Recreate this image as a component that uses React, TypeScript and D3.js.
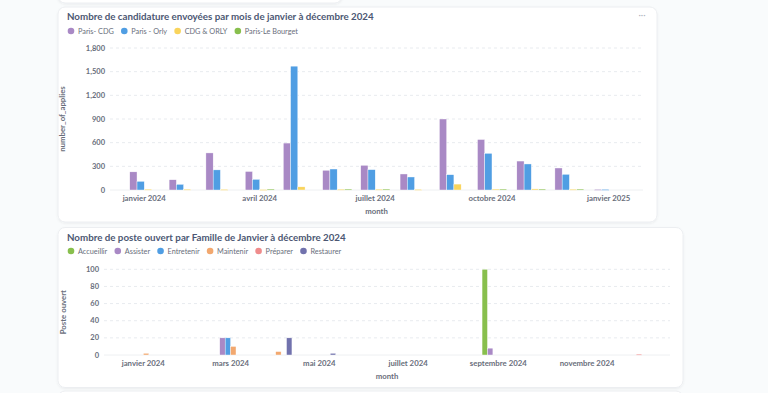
import { useEffect, useRef } from 'react';
import * as d3 from 'd3';

// libellés des mois en français
const moisFr = ['janvier', 'février', 'mars', 'avril', 'mai', 'juin', 'juillet', 'août', 'septembre', 'octobre', 'novembre', 'décembre'];

// --- graphique 1 : candidatures par mois ---
const months1 = ['2024-01', '2024-02', '2024-03', '2024-04', '2024-05', '2024-06', '2024-07', '2024-08', '2024-09', '2024-10', '2024-11', '2024-12', '2025-01'];
const series1 = ['Paris- CDG', 'Paris - Orly', 'CDG & ORLY', 'Paris-Le Bourget'];
const colors1 = ['#A989C5', '#509EE3', '#F9D45C', '#88BF4D'];
const parisCdg = [230, 130, 470, 235, 595, 250, 313, 203, 900, 640, 367, 279, 8];
const parisOrly = [110, 72, 255, 135, 1570, 266, 258, 165, 194, 465, 330, 199, 8];
const cdgOrly = [10, 10, 8, 6, 40, 10, 10, 8, 75, 12, 14, 10, 0];
const leBourget = [0, 0, 0, 12, 0, 12, 12, 0, 0, 12, 12, 12, 0];
const yTicks1 = [0, 300, 600, 900, 1200, 1500, 1800];

// --- graphique 2 : postes ouverts par famille ---
const months2 = ['2024-01', '2024-02', '2024-03', '2024-04', '2024-05', '2024-06', '2024-07', '2024-08', '2024-09', '2024-10', '2024-11', '2024-12'];
const series2 = ['Accueillir', 'Assister', 'Entretenir', 'Maintenir', 'Préparer', 'Restaurer'];
const colors2 = ['#88BF4D', '#A989C5', '#509EE3', '#F2A86F', '#EF8C8C', '#7172AD'];
const accueillir = [0, 0, 0, 0, 0, 0, 0, 0, 100, 0, 0, 0];
const assister = [0, 0, 20, 0, 0, 0, 0, 0, 8, 0, 0, 0];
const entretenir = [0, 0, 20, 0, 0, 0, 0, 0, 0, 0, 0, 0];
const maintenir = [2, 0, 10, 4, 0, 0, 0, 0, 0, 0, 0, 0];
const preparer = [0, 0, 0, 0, 0, 0, 0, 0, 0, 0, 0, 1];
const restaurer = [0, 0, 0, 20, 2, 0, 0, 0, 0, 0, 0, 0];
const yTicks2 = [0, 20, 40, 60, 80, 100];

const FONT = 'Lato, "Open Sans", sans-serif';
const TITLE = '#4C5773';
const MUTED = '#696E7B';

interface ChartCfg {
  title: string;
  card: { x: number; y: number; w: number; h: number };
  titleY: number;
  legendY: number;
  series: string[];
  colors: string[];
  values: number[][];
  months: string[];
  yTicks: number[];
  plot: { x0: number; x1: number; y0: number; y1: number };
  groupW: number;
  tickEvery: number;
  yLabel: string;
  yLabelX: number;
  xLabelY: number;
  menu: boolean;
}

const parseMonth = d3.timeParse('%Y-%m');
const fmtMonth = (d: Date) => `${moisFr[d.getMonth()]} ${d.getFullYear()}`;

function drawChart(svg: d3.Selection<SVGSVGElement, unknown, null, undefined>, c: ChartCfg) {
  const g = svg.append('g');
  g.append('rect')
    .attr('x', c.card.x)
    .attr('y', c.card.y)
    .attr('width', c.card.w)
    .attr('height', c.card.h)
    .attr('rx', 7)
    .attr('fill', '#fff')
    .attr('stroke', '#ECEEF1')
    .attr('filter', 'url(#shadow)');

  g.append('text')
    .attr('x', c.card.x + 9)
    .attr('y', c.titleY)
    .attr('dy', '0.35em')
    .attr('font-family', FONT)
    .attr('font-weight', 700)
    .attr('font-size', 9.75)
    .attr('fill', TITLE)
    .text(c.title);

  if (c.menu) {
    g.append('text')
      .attr('x', c.card.x + c.card.w - 15)
      .attr('y', c.titleY + 1)
      .attr('text-anchor', 'middle')
      .attr('font-family', FONT)
      .attr('font-size', 9)
      .attr('fill', '#B0B5C0')
      .text('···');
  }

  // légende
  let lx = c.card.x + 13;
  c.series.forEach((s, i) => {
    g.append('circle').attr('cx', lx).attr('cy', c.legendY).attr('r', 3.3).attr('fill', c.colors[i]);
    const t = g
      .append('text')
      .attr('x', lx + 7)
      .attr('y', c.legendY)
      .attr('dy', '0.35em')
      .attr('font-family', FONT)
      .attr('font-size', 7.3)
      .attr('fill', MUTED)
      .text(s);
    const w = (t.node() as SVGTextElement).getComputedTextLength();
    lx += 7 + w + 10.5;
  });

  const dates = c.months.map((m) => parseMonth(m)!);
  const pad = 27;
  const x = d3
    .scaleTime()
    .domain([d3.timeDay.offset(dates[0], -pad), d3.timeDay.offset(dates[dates.length - 1], pad)])
    .range([c.plot.x0, c.plot.x1]);
  const y = d3
    .scaleLinear()
    .domain([0, c.yTicks[c.yTicks.length - 1]])
    .range([c.plot.y0, c.plot.y1]);
  const xs = d3.scaleBand<string>().domain(c.series).range([-c.groupW / 2, c.groupW / 2]).padding(0);

  // grille
  g.append('g')
    .selectAll('line')
    .data(c.yTicks.filter((t) => t > 0))
    .join('line')
    .attr('x1', c.plot.x0)
    .attr('x2', c.plot.x1)
    .attr('y1', (d) => y(d))
    .attr('y2', (d) => y(d))
    .attr('stroke', '#E8EBEF')
    .attr('stroke-dasharray', '3,3');

  g.append('line')
    .attr('x1', c.plot.x0)
    .attr('x2', c.plot.x1)
    .attr('y1', y(0))
    .attr('y2', y(0))
    .attr('stroke', '#EEF0F2');

  // axe y
  g.append('g')
    .selectAll('text')
    .data(c.yTicks)
    .join('text')
    .attr('x', c.plot.x0 - 5)
    .attr('y', (d) => y(d))
    .attr('dy', '0.35em')
    .attr('text-anchor', 'end')
    .attr('font-family', FONT)
    .attr('font-weight', 700)
    .attr('font-size', 7.5)
    .attr('fill', MUTED)
    .text((d) => d3.format(',')(d));

  // barres
  c.series.forEach((s, si) => {
    g.append('g')
      .selectAll('rect')
      .data(dates.map((d, i) => ({ d, v: c.values[si][i] })).filter((p) => p.v > 0))
      .join('rect')
      .attr('x', (p) => x(p.d) + xs(s)!)
      .attr('width', xs.bandwidth())
      .attr('y', (p) => y(p.v))
      .attr('height', (p) => Math.max(1, y(0) - y(p.v)))
      .attr('fill', c.colors[si])
      .attr('stroke', '#fff')
      .attr('stroke-width', 0.4);
  });

  // axe x
  const ticks = dates.filter((_, i) => i % c.tickEvery === 0);
  g.append('g')
    .selectAll('text')
    .data(ticks)
    .join('text')
    .attr('x', (d) => x(d))
    .attr('y', y(0) + 8)
    .attr('dy', '0.35em')
    .attr('text-anchor', 'middle')
    .attr('font-family', FONT)
    .attr('font-weight', 700)
    .attr('font-size', 7.8)
    .attr('fill', MUTED)
    .text(fmtMonth);

  g.append('text')
    .attr('x', (c.plot.x0 + c.plot.x1) / 2)
    .attr('y', c.xLabelY)
    .attr('dy', '0.35em')
    .attr('text-anchor', 'middle')
    .attr('font-family', FONT)
    .attr('font-weight', 700)
    .attr('font-size', 7.8)
    .attr('fill', MUTED)
    .text('month');

  g.append('text')
    .attr('transform', `translate(${c.yLabelX},${(c.plot.y0 + c.plot.y1) / 2}) rotate(-90)`)
    .attr('dy', '0.35em')
    .attr('text-anchor', 'middle')
    .attr('font-family', FONT)
    .attr('font-weight', 700)
    .attr('font-size', 7.8)
    .attr('fill', MUTED)
    .text(c.yLabel);
}

export default function App() {
  const svgRef = useRef<SVGSVGElement>(null);

  useEffect(() => {
    if (!svgRef.current) return;
    const svg = d3.select(svgRef.current);
    svg.selectAll('*').remove();

    const defs = svg.append('defs');
    const f = defs.append('filter').attr('id', 'shadow').attr('x', '-5%').attr('y', '-5%').attr('width', '110%').attr('height', '115%');
    f.append('feDropShadow').attr('dx', 0).attr('dy', 1).attr('stdDeviation', 1.2).attr('flood-color', '#000').attr('flood-opacity', 0.06);

    svg.append('rect').attr('width', 768).attr('height', 393).attr('fill', '#F9FBFC');

    // carte du dessus, coupée
    svg.append('rect').attr('x', 58).attr('y', -20).attr('width', 284).attr('height', 23).attr('rx', 7)
      .attr('fill', '#fff').attr('stroke', '#ECEEF1').attr('filter', 'url(#shadow)');
    // carte du dessous, coupée
    svg.append('rect').attr('x', 58).attr('y', 391).attr('width', 625).attr('height', 30).attr('rx', 7)
      .attr('fill', '#fff').attr('stroke', '#ECEEF1');

    drawChart(svg, {
      title: 'Nombre de candidature envoyées par mois de janvier à décembre 2024',
      card: { x: 58, y: 7, w: 599, h: 215 },
      titleY: 16.7,
      legendY: 31,
      series: series1,
      colors: colors1,
      values: [parisCdg, parisOrly, cdgOrly, leBourget],
      months: months1,
      yTicks: yTicks1,
      plot: { x0: 110, x1: 643, y0: 190, y1: 48 },
      groupW: 29,
      tickEvery: 3,
      yLabel: 'number_of_applies',
      yLabelX: 62,
      xLabelY: 211.5,
      menu: true,
    });

    drawChart(svg, {
      title: 'Nombre de poste ouvert par Famille de Janvier à décembre 2024',
      card: { x: 58, y: 227.5, w: 625, h: 160 },
      titleY: 238,
      legendY: 251,
      series: series2,
      colors: colors2,
      values: [accueillir, assister, entretenir, maintenir, preparer, restaurer],
      months: months2,
      yTicks: yTicks2,
      plot: { x0: 104, x1: 670, y0: 355, y1: 269.3 },
      groupW: 32.5,
      tickEvery: 2,
      yLabel: 'Poste ouvert',
      yLabelX: 63,
      xLabelY: 376,
      menu: false,
    });
  }, []);

  return (
    <div style={{ position: 'absolute', left: 0, top: 0, width: 768, height: 393 }}>
      <svg ref={svgRef} width={768} height={393} style={{ display: 'block' }} />
    </div>
  );
}
